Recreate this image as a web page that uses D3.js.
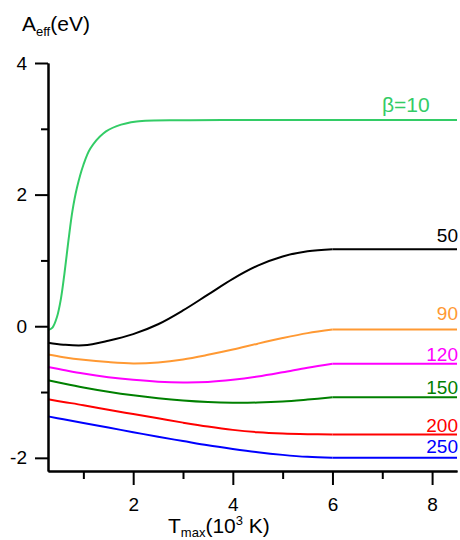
<!DOCTYPE html>
<html>
<head>
<meta charset="utf-8">
<script src="https://cdn.jsdelivr.net/npm/d3@7/dist/d3.min.js"></script>
<style>
  html, body { margin: 0; padding: 0; background: #fff; }
  svg { display: block; font-family: Arial, "Liberation Sans", sans-serif; }
</style>
</head>
<body>
<svg id="chart" width="460" height="540"></svg>
<script>
// ---- data ----
const tmax = [0.29, 0.6, 1.0, 1.5, 2.0, 2.5, 3.0, 3.5, 4.0, 4.5, 5.0, 5.5, 6.0, 8.5];
const beta50  = [-0.25, -0.28, -0.29, -0.22, -0.12, 0.03, 0.24, 0.48, 0.72, 0.92, 1.06, 1.14, 1.17, 1.17];
const beta90  = [-0.43, -0.47, -0.51, -0.545, -0.565, -0.55, -0.505, -0.435, -0.355, -0.265, -0.18, -0.105, -0.05, -0.05];
const beta120 = [-0.62, -0.665, -0.72, -0.775, -0.815, -0.843, -0.855, -0.848, -0.815, -0.765, -0.70, -0.63, -0.57, -0.57];
const beta150 = [-0.82, -0.87, -0.93, -0.995, -1.05, -1.095, -1.13, -1.153, -1.163, -1.16, -1.145, -1.115, -1.08, -1.08];
const beta200 = [-1.11, -1.15, -1.20, -1.27, -1.335, -1.40, -1.465, -1.525, -1.575, -1.61, -1.63, -1.64, -1.645, -1.645];
const beta250 = [-1.37, -1.415, -1.47, -1.54, -1.61, -1.68, -1.745, -1.81, -1.865, -1.915, -1.955, -1.985, -2.0, -2.0];
const tmax10  = [0.29, 0.38, 0.47, 0.55, 0.62, 0.7, 0.78, 0.87, 1.0, 1.14, 1.4, 1.67, 2.07, 3.0, 4.0, 6.0, 8.5];
const beta10  = [-0.06, -0.02, 0.14, 0.42, 0.8, 1.3, 1.75, 2.1, 2.45, 2.7, 2.93, 3.04, 3.11, 3.13, 3.135, 3.135, 3.135];
const seriesLabels = ["β=10", "50", "90", "120", "150", "200", "250"];
const xMajorTicks = [2, 4, 6, 8];
const xMinorTicks = [1, 3, 5, 7];
const yMajorTicks = [-2, 0, 2, 4];
const yMinorTicks = [-1, 1, 3];

const series = [
  { label: seriesLabels[0], xs: tmax10, ys: beta10, color: "#33cc66", lx: 7.95, fs: 21, split: false },
  { label: seriesLabels[1], xs: tmax, ys: beta50,  color: "#000000", lx: 8.52, fs: 19, split: true },
  { label: seriesLabels[2], xs: tmax, ys: beta90,  color: "#ff9933", lx: 8.52, fs: 19, split: true },
  { label: seriesLabels[3], xs: tmax, ys: beta120, color: "#ff00ff", lx: 8.52, fs: 19, split: true },
  { label: seriesLabels[4], xs: tmax, ys: beta150, color: "#008000", lx: 8.52, fs: 19, split: true },
  { label: seriesLabels[5], xs: tmax, ys: beta200, color: "#ff0000", lx: 8.52, fs: 19, split: true },
  { label: seriesLabels[6], xs: tmax, ys: beta250, color: "#0000ff", lx: 8.52, fs: 19, split: true }
];
const labelDy = [-8, -7, -10, -2.5, -3, -2.5, -4.5];

// ---- layout ----
const svg = d3.select("#chart");
const x = d3.scaleLinear().domain([0.29, 8.5]).range([48, 457]);
const y = d3.scaleLinear().domain([-2.2, 4]).range([471, 63]);

// curves
const lineCurve = d3.line().x(d => x(d[0])).y(d => y(d[1])).curve(d3.curveCatmullRom.alpha(0.5));
const lineStraight = d3.line().x(d => x(d[0])).y(d => y(d[1]));

series.forEach((s, i) => {
  const pts = s.xs.map((v, k) => [v, s.ys[k]]);
  const splitAt = s.xs.indexOf(6.0);
  const g = svg.append("g");
  if (s.split && splitAt > 0) {
    g.append("path").attr("d", lineCurve(pts.slice(0, splitAt + 1)))
      .attr("fill", "none").attr("stroke", s.color).attr("stroke-width", 2);
    g.append("path").attr("d", lineStraight(pts.slice(splitAt)))
      .attr("fill", "none").attr("stroke", s.color).attr("stroke-width", 2);
  } else {
    g.append("path").attr("d", lineCurve(pts))
      .attr("fill", "none").attr("stroke", s.color).attr("stroke-width", 2);
  }
  const lastY = s.ys[s.ys.length - 1];
  svg.append("text")
    .attr("x", x(s.lx)).attr("y", y(lastY) + labelDy[i])
    .attr("text-anchor", "end").attr("font-size", s.fs)
    .attr("fill", s.color).text(s.label);
});

// axes
function styleAxis(g) {
  g.selectAll(".domain").attr("stroke", "#000").attr("stroke-width", 2);
  g.selectAll(".tick line").attr("stroke", "#000").attr("stroke-width", 2);
  g.selectAll(".tick text").attr("font-size", 19).attr("fill", "#000")
    .attr("font-family", "Arial, 'Liberation Sans', sans-serif");
}

const xAxis = svg.append("g").attr("transform", "translate(0,471)")
  .call(d3.axisBottom(x).tickValues(xMajorTicks).tickFormat(d3.format("d"))
    .tickSize(14).tickSizeOuter(0).tickPadding(13));
styleAxis(xAxis);
const xMinor = svg.append("g").attr("transform", "translate(0,471)")
  .call(d3.axisBottom(x).tickValues(xMinorTicks).tickFormat("").tickSize(8).tickSizeOuter(0));
styleAxis(xMinor);

const yAxis = svg.append("g").attr("transform", "translate(48,0)")
  .call(d3.axisLeft(y).tickValues(yMajorTicks).tickFormat(d3.format("d"))
    .tickSize(13).tickSizeOuter(0).tickPadding(8));
styleAxis(yAxis);
const yMinor = svg.append("g").attr("transform", "translate(48,0)")
  .call(d3.axisLeft(y).tickValues(yMinorTicks).tickFormat("").tickSize(7).tickSizeOuter(0));
styleAxis(yMinor);
yAxis.selectAll(".tick text").text(d => d < 0 ? "-" + Math.abs(d) : d);

// axis titles
const yt = svg.append("text").attr("x", 22).attr("y", 31).attr("font-size", 21).attr("fill", "#000");
yt.append("tspan").text("A");
yt.append("tspan").attr("font-size", 13).attr("dy", 5).text("eff");
yt.append("tspan").attr("dy", -5).text("(eV)");

const xt = svg.append("text").attr("x", 168).attr("y", 533).attr("font-size", 21).attr("fill", "#000");
xt.append("tspan").text("T");
xt.append("tspan").attr("font-size", 13).attr("dy", 4).text("max");
xt.append("tspan").attr("dy", -4).text("(10");
xt.append("tspan").attr("font-size", 13).attr("dy", -8).text("3");
xt.append("tspan").attr("dy", 8).text(" K)");
</script>
</body>
</html>
